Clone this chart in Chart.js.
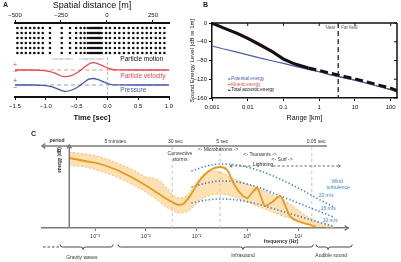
<!DOCTYPE html>
<html>
<head>
<meta charset="utf-8">
<title>Sound energy panels</title>
<script src="https://cdn.jsdelivr.net/npm/chart.js@4.4.1/dist/chart.umd.min.js"></script>
<style>
  html, body { margin: 0; padding: 0; background: #fff; }
  #wrap { position: relative; width: 401px; height: 262px; overflow: hidden; }
  #wrap canvas { position: absolute; }
</style>
</head>
<body>
<div id="wrap">
  <canvas id="chartA" width="200" height="125" style="left:0;top:0"></canvas>
  <canvas id="chartB" width="217" height="125" style="left:184px;top:0"></canvas>
  <canvas id="chartC" width="401" height="137" style="left:0;top:125px"></canvas>
</div>
<script>
// ---------- Panel A: particle motion / velocity / pressure ----------
const spatialTicks = [-500, -250, 0, 250];
const timeTicks = [-1.5, -1.0, -0.5, 0.0, 0.5, 1.0];
const dotColumns = [-487, -464, -441, -418, -395, -372, -349,
  -310, -246, -201, -168, -143, -122, -104,
  -92, -84, -76, -68, -60, -52, -45, -38,
  -29, -5, 16, 43, 67, 92, 118, 143, 167, 192, 216, 239, 265, 288, 312];
const dotRows = [69, 64, 59, 54, 49, 44];
const pulseTime = [-1.5, -1.2, -1.05, -0.95, -0.85, -0.75, -0.69, -0.6, -0.5, -0.44, -0.38, -0.3, -0.23, -0.15, -0.05, 0.05, 0.15, 0.5, 1.0];
const velocity = [27, 27, 26.7, 25.6, 23.8, 21.0, 20.4, 21.2, 24, 26.5, 29.5, 33, 34.3, 33.2, 30.5, 28, 27.1, 27, 27];
const pressure = [12, 12, 11.7, 10.8, 9.2, 6.6, 5.6, 6.5, 9.3, 11.8, 14.5, 17.8, 18.5, 17.3, 14.8, 12.6, 12.05, 12, 12];
const velocityRest = 27;
const pressureRest = 12;

// ---------- Panel B: sound energy vs range ----------
const rangeKm = [0.001, 0.002, 0.005, 0.01, 0.02, 0.05, 0.1, 0.2, 0.5, 1, 2, 5, 10, 20, 50, 100, 150];
const potentialDb = [-49, -55, -62, -68, -74, -81, -86, -92, -99, -104, -110, -117, -122, -128, -136, -142, -147];
const kineticDb = [-1, -9, -20, -30, -42, -59, -75, -86, -99, -104, -110, -117, -122, -128, -136, -142, -147];
const totalDb = [0, -10, -22, -33, -45, -62, -77, -87, -96, -101, -107, -114, -119, -125, -133, -139, -144];
const rangeTicks = [0.001, 0.01, 0.1, 1, 10, 100];
const rangeLabels = ['0.001', '0.01', '0.1', '1', '10', '100'];
const levelTicks = [-160, -120, -80, -40, 0];
const nearFarKm = 3.4;

// ---------- Panel C: infrasound spectrum sketch ----------
const freqTicks = [1e-3, 1e-2, 1e-1, 1, 10];
const freqLabels = ['10\u207B\u00B3', '10\u207B\u00B2', '10\u207B\u00B9', '10\u2070', '10\u00B9'];
const freqMain = [3.1e-4, 6.3e-4, 1.26e-3, 2.7e-3, 5.6e-3, 0.012, 0.026, 0.033, 0.044, 0.054, 0.074, 0.117, 0.186, 0.29, 0.40, 0.52, 0.72, 1.0, 1.23, 1.55, 1.86, 2.24, 3.09, 4.47, 5.5, 6.9, 11, 17.4, 22.4];
const energyMain = [70, 67, 64, 58, 50, 40, 29, 26, 23, 24, 32, 48, 58, 61, 58, 46, 35, 30, 35, 40, 31, 22, 26, 32, 23, 12, 6, 3, 1];
const freqBand = [3.1e-4, 6.3e-4, 1.26e-3, 2.7e-3, 5.6e-3, 0.01, 0.016, 0.025, 0.033, 0.044, 0.063, 0.089, 0.126, 0.2, 0.29, 0.5, 0.79, 1.58, 3.16, 5.0, 7.9, 12.6, 20, 35.5, 50];
const bandUpper = [76, 74, 71, 65, 58, 51, 49, 41, 34, 30, 32, 42, 52, 57, 56, 50, 46, 40, 33, 28, 22, 14, 8, 3, 1];
const bandLower = [63, 61, 57, 51, 43, 36, 29, 21, 18, 15, 16, 22, 29, 33, 34, 32, 28, 22, 16, 12, 9, 6, 3, 1, 0.5];
const freqWind = [0.079, 0.158, 0.29, 0.63, 1.58, 3.98, 10, 25, 50];
const wind20 = [57, 62, 64, 63, 58, 50, 40, 29, 21];
const wind15 = [41, 45, 47, 46, 41, 33, 25, 17, 11];
const wind10 = [25, 28, 29, 28, 24, 18, 12, 6, 2];
const periodFreqs = [0.033, 0.29, 18.6];

const FONT = '"Liberation Sans", Arial, sans-serif';
const RED = '#e0494c';
const BLUE = '#4a5bab';
const ORANGE = '#e6981a';
const WIND = '#3f7fc4';
const AXIS_GRAY = '#7a7a7a';

Chart.defaults.font.family = FONT;
Chart.defaults.color = '#222';

function xy(xs, ys) {
  return xs.map((v, i) => ({ x: v, y: ys[i] }));
}

function drawText(ctx, txt, x, y, o) {
  o = o || {};
  ctx.save();
  ctx.font = (o.w || 'normal') + ' ' + (o.size || 5) + 'px ' + FONT;
  ctx.fillStyle = o.c || '#222';
  ctx.textAlign = o.align || 'center';
  ctx.textBaseline = 'middle';
  ctx.translate(x, y);
  if (o.rot) ctx.rotate(o.rot);
  ctx.fillText(txt, 0, 0);
  ctx.restore();
}

function seg(ctx, x1, y1, x2, y2) {
  ctx.beginPath();
  ctx.moveTo(x1, y1);
  ctx.lineTo(x2, y2);
  ctx.stroke();
}

function chevron(ctx, x, y, dir, s) {
  // open arrow head, dir in radians (direction it points to)
  s = s || 4;
  ctx.beginPath();
  ctx.moveTo(x - s * Math.cos(dir - 0.6), y - s * Math.sin(dir - 0.6));
  ctx.lineTo(x, y);
  ctx.lineTo(x - s * Math.cos(dir + 0.6), y - s * Math.sin(dir + 0.6));
  ctx.stroke();
}

// ---------- Chart A ----------
const annotA = {
  id: 'annotA',
  afterDraw(chart) {
    const { ctx, scales: { x, y } } = chart;
    drawText(ctx, 'A', 3, 5, { size: 7, w: 'bold', align: 'left' });
    drawText(ctx, 'Particle motion', x.getPixelForValue(0.21), y.getPixelForValue(38), { size: 6.5, align: 'left', c: '#111' });
    drawText(ctx, 'Particle velocity', x.getPixelForValue(0.21), y.getPixelForValue(21), { size: 6.5, align: 'left', c: RED });
    drawText(ctx, 'Pressure', x.getPixelForValue(0.21), y.getPixelForValue(7), { size: 6.5, align: 'left', c: BLUE });
    drawText(ctx, 'rarefaction', x.getPixelForValue(-0.73), y.getPixelForValue(38), { size: 4.3, c: '#aaa' });
    drawText(ctx, 'compression', x.getPixelForValue(-0.26), y.getPixelForValue(38), { size: 4.3, c: '#aaa' });
    const x0 = x.getPixelForValue(-1.5);
    drawText(ctx, '+', x0, y.getPixelForValue(32), { size: 7, c: RED });
    drawText(ctx, '\u2212', x0, y.getPixelForValue(25), { size: 7, c: RED });
    drawText(ctx, '+', x0, y.getPixelForValue(16), { size: 7, c: BLUE });
    drawText(ctx, '\u2212', x0, y.getPixelForValue(9), { size: 7, c: BLUE });
  }
};

const dots = [];
dotRows.forEach(r => dotColumns.forEach(c => dots.push({ x: c, y: r })));

const minusFmt = v => (v < 0 ? '\u2212' : '') + Math.abs(v);

new Chart(document.getElementById('chartA'), {
  type: 'line',
  data: {
    datasets: [
      { label: 'Particle motion', xAxisID: 'xs', data: dots, showLine: false,
        pointRadius: 1.3, pointBackgroundColor: '#111', pointBorderWidth: 0 },
      { label: 'Particle velocity', xAxisID: 'x', data: xy(pulseTime, velocity), borderColor: RED,
        borderWidth: 1.3, cubicInterpolationMode: 'monotone' },
      { xAxisID: 'x', data: [{ x: -1.5, y: velocityRest }, { x: 1.0, y: velocityRest }], borderColor: 'rgba(224,73,76,0.6)',
        borderWidth: 1, borderDash: [4, 3] },
      { label: 'Pressure', xAxisID: 'x', data: xy(pulseTime, pressure), borderColor: BLUE,
        borderWidth: 1.3, cubicInterpolationMode: 'monotone' },
      { xAxisID: 'x', data: [{ x: -1.5, y: pressureRest }, { x: 1.0, y: pressureRest }], borderColor: 'rgba(74,91,171,0.6)',
        borderWidth: 1, borderDash: [4, 3] },
      { xAxisID: 'x', data: [{ x: 0, y: 40 }, { x: 0, y: 0 }], borderColor: '#bbb', borderWidth: 1, borderDash: [3, 2] }
    ]
  },
  options: {
    responsive: false,
    animation: false,
    elements: { point: { radius: 0 } },
    layout: { padding: { left: 15, right: 31, top: 0, bottom: 0 }, autoPadding: false },
    plugins: { legend: { display: false }, tooltip: { enabled: false } },
    scales: {
      x: {
        type: 'linear', position: 'bottom', min: -1.5, max: 1.0,
        afterBuildTicks: s => { s.ticks = timeTicks.map(v => ({ value: v })); },
        afterFit: s => { s.height = 28; },
        grid: { drawOnChartArea: false, tickLength: 3, color: '#111' },
        border: { width: 2, color: '#111' },
        ticks: { font: { size: 6 }, padding: 3, autoSkip: false, maxRotation: 0, color: '#111',
          callback: v => (v < 0 ? '\u2212' : '') + Math.abs(v).toFixed(1) },
        title: { display: true, text: 'Time [sec]', font: { size: 7.5, weight: 'bold' }, padding: { top: 0, bottom: 3 }, color: '#111' }
      },
      xs: {
        type: 'linear', position: 'top', min: -500, max: 337,
        afterBuildTicks: s => { s.ticks = spatialTicks.map(v => ({ value: v })); },
        afterFit: s => { s.height = 23; },
        grid: { drawOnChartArea: false, tickLength: 3, color: '#111' },
        border: { width: 2, color: '#111' },
        ticks: { font: { size: 6 }, padding: 1, autoSkip: false, maxRotation: 0, color: '#111', callback: minusFmt },
        title: { display: true, text: 'Spatial distance [m]', font: { size: 9 }, padding: { top: 0, bottom: 0 }, color: '#111' }
      },
      y: { display: false, min: 0, max: 74 }
    }
  },
  plugins: [annotA]
});

// ---------- Chart B ----------
const annotB = {
  id: 'annotB',
  afterDraw(chart) {
    const { ctx, chartArea: ca, scales: { x, y } } = chart;
    ctx.save();
    ctx.strokeStyle = '#111';
    ctx.lineWidth = 1.5;
    seg(ctx, ca.left, ca.top, ca.right, ca.top);
    seg(ctx, ca.right, ca.top, ca.right, ca.bottom);
    ctx.lineWidth = 1;
    rangeTicks.forEach(v => { const p = x.getPixelForValue(v); seg(ctx, p, ca.top, p, ca.top + 3); });
    levelTicks.forEach(v => { const p = y.getPixelForValue(v); seg(ctx, ca.right, p, ca.right - 3, p); });
    ctx.restore();

    const xn = x.getPixelForValue(nearFarKm);
    const yn = y.getPixelForValue(-10.7);
    drawText(ctx, 'Near', xn - 3, yn, { size: 4.5, align: 'right', c: '#555' });
    drawText(ctx, 'Far field', xn + 3, yn, { size: 4.5, align: 'left', c: '#555' });

    const items = [['Potential energy', BLUE], ['Kinetic energy', RED], ['Total acoustic energy', '#111']];
    items.forEach((it, i) => {
      const lx = ca.left + 16, ly = ca.top + 56 + i * 5.6;
      ctx.save();
      ctx.strokeStyle = it[1];
      ctx.lineWidth = 1;
      seg(ctx, lx, ly, lx + 2.5, ly);
      ctx.restore();
      drawText(ctx, it[0], lx + 3.2, ly, { size: 4.6, align: 'left', c: it[1] });
    });
    drawText(ctx, 'B', 19, 5, { size: 7, w: 'bold', align: 'left' });
  }
};

new Chart(document.getElementById('chartB'), {
  type: 'line',
  data: {
    datasets: [
      { label: 'Total acoustic energy', data: xy(rangeKm, totalDb), borderColor: '#111', borderWidth: 3,
        segment: { borderDash: c => (c.p0.parsed.x >= 0.5 ? [8, 4] : undefined) } },
      { label: 'Potential energy', data: xy(rangeKm, potentialDb), borderColor: BLUE, borderWidth: 1.2 },
      { label: 'Kinetic energy', data: xy(rangeKm, kineticDb), borderColor: RED, borderWidth: 1.2 },
      { data: [{ x: nearFarKm, y: 0 }, { x: nearFarKm, y: -160 }], borderColor: '#222', borderWidth: 1.3, borderDash: [5, 3] }
    ]
  },
  options: {
    responsive: false,
    animation: false,
    elements: { point: { radius: 0 } },
    layout: { padding: { left: 0, right: 4, top: 23, bottom: 0 }, autoPadding: false },
    plugins: { legend: { display: false }, tooltip: { enabled: false } },
    scales: {
      x: {
        type: 'logarithmic', min: 0.001, max: 150,
        afterBuildTicks: s => { s.ticks = rangeTicks.map(v => ({ value: v })); },
        afterFit: s => { s.height = 27; },
        grid: { drawOnChartArea: false, tickLength: 3, color: '#111' },
        border: { width: 1.5, color: '#111' },
        ticks: { font: { size: 6 }, padding: 3, autoSkip: false, maxRotation: 0, color: '#111',
          callback: v => rangeLabels[rangeTicks.indexOf(v)] },
        title: { display: true, text: 'Range [km]', font: { size: 7 }, padding: { top: 0, bottom: 3 }, color: '#111' }
      },
      y: {
        min: -160, max: 0,
        afterBuildTicks: s => { s.ticks = levelTicks.map(v => ({ value: v })); },
        afterFit: s => { s.width = 28; },
        grid: { drawOnChartArea: false, tickLength: 3, color: '#111' },
        border: { width: 1.5, color: '#111' },
        ticks: { font: { size: 6 }, padding: 2, color: '#111', callback: minusFmt },
        title: { display: true, text: 'Sound Energy Level [dB re 1m]', font: { size: 6 }, padding: { top: 4.4, bottom: 0 }, color: '#111' }
      }
    }
  },
  plugins: [annotB]
});

// ---------- Chart C ----------
const textsC = [
  { t: 'period', f: 1.78e-4, e: 87, w: 'bold' },
  { t: '5 minutes', f: 2.5e-3, e: 86 },
  { t: '30 sec', f: 0.038, e: 86 },
  { t: '5 sec', f: 0.32, e: 86 },
  { t: '0.05 sec', f: 22.6, e: 86 },
  { t: 'Convective', f: 0.047, e: 74 },
  { t: 'storms', f: 0.047, e: 68 },
  { t: '<- Microbaroms ->', f: 0.265, e: 78 },
  { t: '<- Tsunamis ->', f: 1.78, e: 73 },
  { t: '<- Surf ->', f: 4.84, e: 68 },
  { t: 'Wind', f: 58.6, e: 46, c: WIND },
  { t: 'turbulence', f: 61.4, e: 40, c: WIND },
  { t: '20 m/s', f: 35.6, e: 32, c: WIND },
  { t: '15 m/s', f: 39, e: 19, c: WIND },
  { t: '10 m/s', f: 42.7, e: 7, c: WIND },
  { t: 'frequency (Hz)', f: 4.62, e: -14, w: 'bold' },
  { t: 'Gravity waves', f: 5.5e-4, e: -30 },
  { t: 'Infrasound', f: 0.82, e: -28 },
  { t: 'Audible sound', f: 44.7, e: -28 }
];
const bracesC = [
  { from: 2.04e-4, mid: 5.8e-4, to: 2.26e-3, dashFrom: 9.4e-5 },
  { from: 2.84e-3, mid: 0.82, to: 19.8 },
  { from: 22.6, mid: 38.9, to: 116 }
];
const lightning = { from: 0.457, label: 2.04, to: 68, e: 62 };

const annotC = {
  id: 'annotC',
  afterDraw(chart) {
    const { ctx, chartArea: ca, scales: { x, y } } = chart;
    const px = f => x.getPixelForValue(f);
    const py = e => y.getPixelForValue(e);
    ctx.save();
    ctx.strokeStyle = AXIS_GRAY;
    ctx.lineWidth = 1.5;
    // period axis along the top
    seg(ctx, ca.left, ca.top, px(37), ca.top);
    chevron(ctx, ca.left, ca.top, Math.PI, 4);
    // energy axis
    const xa = px(3.1e-4);
    seg(ctx, xa, ca.bottom, xa, ca.top - 1);
    chevron(ctx, xa, ca.top - 1, -Math.PI / 2, 4);
    // arrow at end of frequency axis
    chevron(ctx, ca.right, ca.bottom, 0, 4);

    // braces under the axis
    ctx.lineWidth = 0.9;
    ctx.strokeStyle = '#333';
    const yb = py(-19);
    bracesC.forEach(b => {
      const x1 = px(b.from), xm = px(b.mid), x2 = px(b.to), r = 2.5;
      ctx.beginPath();
      ctx.moveTo(x1, yb - r);
      ctx.quadraticCurveTo(x1, yb, x1 + r, yb);
      ctx.lineTo(xm - r, yb);
      ctx.quadraticCurveTo(xm, yb, xm, yb + r);
      ctx.quadraticCurveTo(xm, yb, xm + r, yb);
      ctx.lineTo(x2 - r, yb);
      ctx.quadraticCurveTo(x2, yb, x2, yb - r);
      ctx.stroke();
      if (b.dashFrom) {
        ctx.setLineDash([2.5, 2]);
        seg(ctx, px(b.dashFrom), yb, x1 - 1, yb);
        ctx.setLineDash([]);
      }
    });

    // lightning dashed arrow
    ctx.strokeStyle = '#444';
    ctx.lineWidth = 0.8;
    const yl = py(lightning.e), xl = px(lightning.label);
    ctx.setLineDash([2.5, 2]);
    seg(ctx, px(lightning.from), yl, xl - 10, yl);
    seg(ctx, xl + 10, yl, px(lightning.to), yl);
    ctx.setLineDash([]);
    chevron(ctx, px(lightning.from), yl, Math.PI, 2.5);
    chevron(ctx, px(lightning.to), yl, 0, 2.5);
    ctx.restore();
    drawText(ctx, 'Lightning', xl, yl - 1, { size: 5 });

    textsC.forEach(o => drawText(ctx, o.t, px(o.f), py(o.e), { size: 5, c: o.c || '#333', w: o.w }));
    drawText(ctx, 'energy (dB)', px(2.04e-4), py(68), { size: 4.6, w: 'bold', rot: -Math.PI / 2 });
    drawText(ctx, 'C', 31, 9, { size: 7, w: 'bold', align: 'left' });
  }
};

const dotted = { borderColor: WIND, borderWidth: 1.6, borderDash: [1.3, 2.2], cubicInterpolationMode: 'monotone' };

new Chart(document.getElementById('chartC'), {
  type: 'line',
  data: {
    datasets: [
      { label: 'Infrasound spectrum', data: xy(freqMain, energyMain), borderColor: ORANGE, borderWidth: 1.8, cubicInterpolationMode: 'monotone' },
      Object.assign({ label: '20 m/s', data: xy(freqWind, wind20) }, dotted),
      Object.assign({ label: '15 m/s', data: xy(freqWind, wind15) }, dotted),
      Object.assign({ label: '10 m/s', data: xy(freqWind, wind10) }, dotted),
      { label: 'upper', data: xy(freqBand, bandUpper), borderColor: '#f2b14f', borderWidth: 0.9, borderDash: [2, 2],
        fill: { target: 5 }, backgroundColor: 'rgba(251, 200, 120, 0.55)', cubicInterpolationMode: 'monotone' },
      { label: 'lower', data: xy(freqBand, bandLower), borderColor: '#f2b14f', borderWidth: 0.9, borderDash: [2, 2],
        cubicInterpolationMode: 'monotone' },
      ...periodFreqs.map(f => ({ data: [{ x: f, y: 0 }, { x: f, y: 82 }], borderColor: '#bbb', borderWidth: 0.9, borderDash: [3, 3] }))
    ]
  },
  options: {
    responsive: false,
    animation: false,
    elements: { point: { radius: 0 } },
    layout: { padding: { left: 42, right: 53, top: 21, bottom: 0 }, autoPadding: false },
    plugins: { legend: { display: false }, tooltip: { enabled: false } },
    scales: {
      x: {
        type: 'logarithmic', min: 9.0e-5, max: 96,
        afterBuildTicks: s => { s.ticks = freqTicks.map(v => ({ value: v })); },
        afterFit: s => { s.height = 34; },
        grid: { drawOnChartArea: false, tickLength: 3, color: AXIS_GRAY },
        border: { width: 1.5, color: AXIS_GRAY },
        ticks: { font: { size: 5.5 }, padding: 2, autoSkip: false, maxRotation: 0, color: '#333',
          callback: v => freqLabels[freqTicks.indexOf(v)] }
      },
      y: { display: false, min: 0, max: 82 }
    }
  },
  plugins: [annotC]
});
</script>
</body>
</html>
